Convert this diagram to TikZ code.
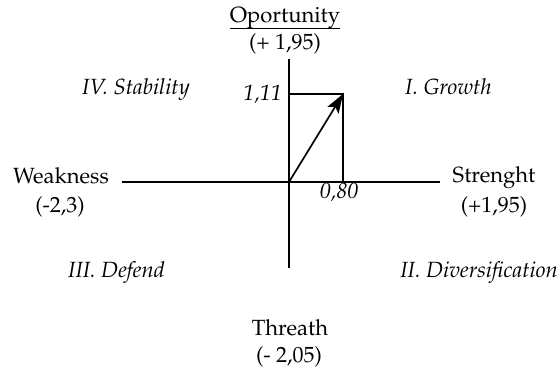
\documentclass[tikz,border=0pt]{standalone}
\usepackage[T1]{fontenc}
\usepackage{mathpazo}
\usetikzlibrary{arrows.meta}
\begin{document}
\begin{tikzpicture}[x=1pt, y=-1pt, line join=miter, >={Stealth[length=19pt,width=13pt,inset=4pt]}, font=\fontsize{22}{26}\selectfont]
	\tikzset{
		axis/.style={line width=1.7pt},
		lbl/.style={inner sep=0pt, anchor=base},
		quad/.style={inner sep=0pt, anchor=base west, font=\fontsize{22}{26}\selectfont\itshape}
	}
	\useasboundingbox (0,0) rectangle (560,369);
	
	% TRUC TOA DO
	\coordinate (O) at (289,182);
	\coordinate (W) at (122,182);
	\coordinate (E) at (440,182);
	\coordinate (N) at (289,59);
	\coordinate (S) at (289,268);
	\draw[axis] (W) -- (E);
	\draw[axis] (S) -- (N);
	
	% VECTOR VA HINH CHU NHAT
	\coordinate (P) at (343,94);
	\coordinate (Px) at (343,182);
	\coordinate (Py) at (289,94);
	\draw[axis] (Py) -- (P) -- (Px);
	\draw[axis, ->] (O) -- (P);
	\node[lbl, anchor=base east, font=\fontsize{22}{26}\selectfont\itshape] (valy) at (282,100) {1,11};
	\node[lbl, font=\fontsize{22}{26}\selectfont\itshape] (valx) at (339,198) {0,80};
	
	% NHAN CAC TRUC
	\node[lbl] (opp) at (285,23) {Oportunity};
	\draw[line width=1pt] ([yshift=-6pt]opp.base west) -- ([yshift=-6pt]opp.base east);
	\node[lbl] (oppval) at (285,50) {(+ 1,95)};
	\node[lbl] (weak) at (61,183) {Weakness};
	\node[lbl] (weakval) at (60,212) {(-2,3)};
	\node[lbl] (str) at (494,182) {Strenght};
	\node[lbl] (strval) at (494,212) {(+1,95)};
	\node[lbl] (thr) at (290,335) {Threath};
	\node[lbl] (thrval) at (289,362) {(- 2,05)};
	
	% CAC GOC PHAN TU
	\node[quad] (q4) at (82,95) {IV. Stability};
	\node[quad] (q1) at (405,95) {I. Growth};
	\node[quad] (q3) at (68,277) {III. Defend};
	\node[quad, anchor=base east] (q2) at (558,277) {II. Diversification};
\end{tikzpicture}
\end{document}
